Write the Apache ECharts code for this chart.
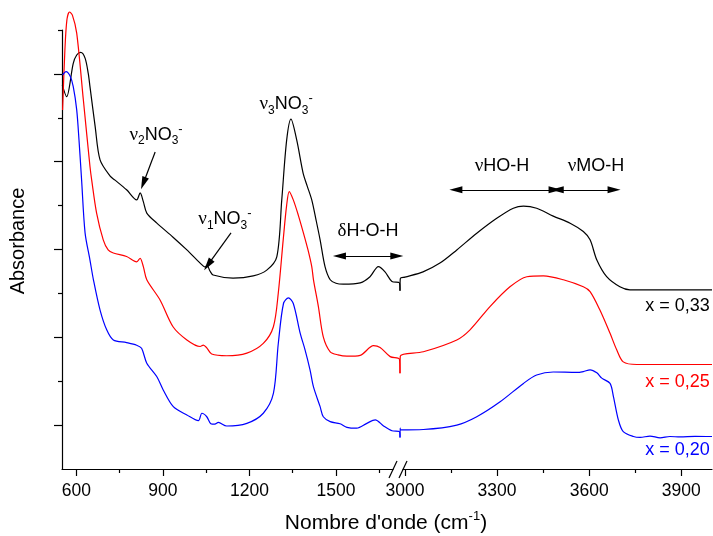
<!DOCTYPE html>
<html><head><meta charset="utf-8">
<script src="https://cdn.jsdelivr.net/npm/echarts@6/dist/echarts.min.js"></script>
<style>html,body{margin:0;padding:0;background:#fff}#c{width:713px;height:536px}</style>
</head><body><div id="c"></div>
<script>
// ---------- DATA ----------
// Low-wavenumber part (550-1722 cm-1)
const blackLowCm  = [551,566,589,601,615,630,641,647,665,682,717,734,774,809,821,832,844,879,935,983,1029,1046,1053,1063,1074,1143,1213,1260,1295,1312,1329,1344,1364,1386,1400,1416,1431,1445,1462,1480,1500,1525,1584,1618,1647,1670,1694,1720,1722];
const blackLowAbs = [8.75,8.48,9.24,9.43,9.49,9.36,9.01,8.71,7.80,7.04,6.67,6.58,6.36,6.13,6.29,6.09,5.83,5.60,5.28,4.99,4.69,4.60,4.64,4.51,4.42,4.35,4.40,4.53,4.84,6.13,7.49,7.97,7.49,6.74,6.45,6.13,5.67,5.22,4.61,4.31,4.23,4.21,4.24,4.38,4.61,4.49,4.27,4.24,4.06];
const redLowCm    = [552,560,567,576,586,601,624,647,653,670,693,710,728,774,809,821,832,844,890,935,983,1029,1040,1052,1069,1121,1191,1248,1283,1300,1317,1329,1338,1352,1369,1387,1403,1416,1422,1439,1456,1480,1507,1538,1584,1630,1653,1688,1720,1722];
const redLowAbs   = [8.18,9.54,10.23,10.41,10.34,9.93,8.41,6.89,6.58,5.83,5.22,4.99,4.92,4.84,4.72,4.80,4.61,4.31,3.85,3.24,2.94,2.79,2.82,2.76,2.62,2.58,2.64,2.86,3.24,4.01,5.22,6.01,6.32,6.13,5.79,5.38,4.99,4.61,4.31,3.70,3.01,2.67,2.60,2.57,2.59,2.81,2.77,2.56,2.50,2.18];
const blueLowCm   = [552,564,578,589,601,609,618,630,647,659,682,705,728,774,809,826,844,879,901,936,983,1023,1035,1052,1066,1080,1092,1121,1191,1248,1283,1300,1318,1335,1352,1376,1393,1410,1422,1445,1456,1480,1514,1538,1572,1607,1636,1665,1694,1720,1722];
const blueLowAbs  = [8.97,9.05,8.95,8.71,8.18,7.49,6.58,5.38,4.76,4.31,3.62,3.17,2.94,2.88,2.82,2.75,2.41,2.10,1.80,1.42,1.23,1.10,1.27,1.19,1.03,1.02,1.06,0.98,1.04,1.27,1.72,2.86,3.77,3.90,3.77,3.09,2.71,2.26,1.87,1.42,1.19,1.08,1.03,0.95,0.93,1.04,1.12,0.98,0.87,0.85,0.72];
// High-wavenumber part (2984-4000 cm-1)
const blackHighCm  = [2984,2985,3000,3059,3114,3169,3234,3299,3353,3386,3429,3483,3538,3581,3603,3625,3657,3700,3733,4000];
const blackHighAbs = [4.06,4.34,4.37,4.49,4.69,4.99,5.37,5.71,5.94,5.99,5.94,5.76,5.60,5.41,5.22,4.76,4.38,4.15,4.08,4.08];
const redHighCm    = [2984,2985,3060,3169,3212,3277,3342,3397,3451,3516,3581,3603,3635,3668,3690,3711,3755,4000];
const redHighAbs   = [2.18,2.57,2.67,2.94,3.17,3.70,4.15,4.38,4.40,4.31,4.15,4.04,3.62,3.09,2.71,2.44,2.38,2.38];
const blueHighCm   = [2984,2984.5,2985,3060,3169,3234,3310,3386,3429,3483,3559,3581,3603,3625,3641,3668,3679,3695,3711,3744,3766,3798,3831,3863,3896,3945,4000];
const blueHighAbs  = [0.72,0.93,0.89,0.90,1.00,1.19,1.53,1.95,2.14,2.21,2.20,2.22,2.26,2.19,2.07,1.95,1.65,1.12,0.85,0.74,0.72,0.75,0.71,0.74,0.73,0.745,0.74];

// Tick values
const lowMajorTicks  = [600, 900, 1200, 1500];
const lowMinorTicks  = [750, 1050, 1350, 1650];
const highMajorTicks = [3000, 3300, 3600, 3900];
const highMinorTicks = [3150, 3450, 3750];
const yMajorTicks = [1, 3, 5, 7, 9];
const yMinorTicks = [2, 4, 6, 8, 10];

// Series names / labels
const seriesLabels = ['x = 0,33', 'x = 0,25', 'x = 0,20'];
const seriesColors = ['#000000', '#ff0000', '#0000ff'];

// ---------- CHART ----------
const FONT = '"Liberation Sans", Arial, sans-serif';
const SERIF = '"Liberation Serif", "DejaVu Serif", serif';
const pair = (xs, ys) => xs.map((x, i) => [x, ys[i]]);
const chart = echarts.init(document.getElementById('c'), null, {renderer: 'canvas'});

const axisLine = {show: true, lineStyle: {color: '#000', width: 1.2}};
function xAx(grid, min, max, ticks, len, labels, showLine) {
  return {
    type: 'value', gridIndex: grid, min: min, max: max, position: 'bottom',
    axisLine: showLine ? axisLine : {show: false},
    axisTick: {show: true, length: len, customValues: ticks, lineStyle: {color: '#000', width: 1.2}},
    axisLabel: labels ? {show: true, customValues: ticks, margin: 13, color: '#000', fontSize: 17.5, fontFamily: FONT,
      formatter: v => String(v)} : {show: false},
    splitLine: {show: false}, minorTick: {show: false}
  };
}
function yAx(grid, ticks, len, showLine, show) {
  return {
    type: 'value', gridIndex: grid, min: 0, max: 10, position: 'left', show: show,
    axisLine: showLine ? axisLine : {show: false},
    axisTick: {show: true, length: len, customValues: ticks, lineStyle: {color: '#000', width: 1.2}},
    axisLabel: {show: false}, splitLine: {show: false}
  };
}

const arrowStyle = {color: '#000', width: 1.2, type: 'solid'};
function arrow(a, b, both) {
  return [{coord: a, symbol: both ? 'triangle' : 'none'}, {coord: b, symbol: 'triangle'}];
}

function lineSeries(name, xi, data, color, markLine) {
  const s = {
    name: name, type: 'line', xAxisIndex: xi, yAxisIndex: xi, data: data,
    showSymbol: false, symbol: 'none', smooth: 0.3, clip: false,
    lineStyle: {color: color, width: 1.2}, itemStyle: {color: color},
    silent: true, animation: false, z: 5
  };
  if (markLine) s.markLine = markLine;
  return s;
}

const lowArrows = {
  silent: true, symbolSize: [7, 13], animation: false,
  lineStyle: arrowStyle, label: {show: false}, emphasis: {disabled: true},
  data: [
    arrow([873, 7.22], [832, 6.51], false),
    arrow([1136, 5.38], [1056, 4.65], false),
    arrow([1512, 4.85], [1711, 4.85], true)
  ]
};
const highArrows = {
  silent: true, symbolSize: [7, 13], animation: false,
  lineStyle: arrowStyle, label: {show: false}, emphasis: {disabled: true},
  data: [
    arrow([3166, 6.36], [3489, 6.36], true),
    arrow([3496, 6.36], [3681, 6.36], true)
  ]
};

const option = {
  animation: false,
  backgroundColor: '#fff',
  grid: [
    {left: 62, top: 30, width: 338, height: 439, outerBoundsMode: 'none', containLabel: false},
    {left: 400, top: 30, width: 312, height: 439, outerBoundsMode: 'none', containLabel: false}
  ],
  xAxis: [
    xAx(0, 550, 1722, lowMajorTicks, 7, true, true),
    xAx(0, 550, 1722, lowMinorTicks, 4, false, false),
    xAx(1, 2984, 4000, highMajorTicks, 7, true, true),
    xAx(1, 2984, 4000, highMinorTicks, 4, false, false)
  ],
  yAxis: [
    yAx(0, yMajorTicks, 8, true, true),
    yAx(0, yMinorTicks, 4, false, true),
    yAx(1, yMajorTicks, 0, false, false),
    yAx(1, yMinorTicks, 0, false, false)
  ],
  series: [
    lineSeries('black-low', 0, pair(blackLowCm, blackLowAbs), seriesColors[0], lowArrows),
    lineSeries('red-low', 0, pair(redLowCm, redLowAbs), seriesColors[1]),
    lineSeries('blue-low', 0, pair(blueLowCm, blueLowAbs), seriesColors[2]),
    lineSeries('black-high', 2, pair(blackHighCm, blackHighAbs), seriesColors[0], highArrows),
    lineSeries('red-high', 2, pair(redHighCm, redHighAbs), seriesColors[1]),
    lineSeries('blue-high', 2, pair(blueHighCm, blueHighAbs), seriesColors[2])
  ]
};
chart.setOption(option);

// ---------- ANNOTATIONS (anchored in data coordinates) ----------
const big = {fontSize: 18, fontFamily: FONT, fill: '#000', lineHeight: 24, verticalAlign: 'middle'};
const greek = {fontSize: 19, fontFamily: SERIF, fill: '#000', lineHeight: 24, verticalAlign: 'middle'};
const sub = {fontSize: 12, fontFamily: FONT, fill: '#000', lineHeight: 12, verticalAlign: 'bottom'};
const sup = {fontSize: 13, fontFamily: FONT, fill: '#000', lineHeight: 12, verticalAlign: 'top'};
const richNu = {g: greek, m: big, s: sub, p: sup};

const annotations = [
  {grid: 0, at: [1327, 8.31], text: '{g|ν}{s|3}{m|NO}{s|3}{p|-}', align: 'center'},
  {grid: 0, at: [876, 7.61], text: '{g|ν}{s|2}{m|NO}{s|3}{p|-}', align: 'center'},
  {grid: 0, at: [1115, 5.69], text: '{g|ν}{s|1}{m|NO}{s|3}{p|-}', align: 'center'},
  {grid: 0, at: [1611, 5.42], text: '{g|δ}{m|H-O-H}', align: 'center'},
  {grid: 1, at: [3316, 6.90], text: '{g|ν}{m|HO-H}', align: 'center'},
  {grid: 1, at: [3622, 6.90], text: '{g|ν}{m|MO-H}', align: 'center'}
];
const legendAnchors = [[3993, 3.71], [3993, 1.99], [3993, 0.43]];

const graphics = [];
annotations.forEach(a => {
  const p = chart.convertToPixel({gridIndex: a.grid}, a.at);
  graphics.push({type: 'text', x: p[0], y: p[1], z: 10, silent: true,
    style: {text: a.text, rich: richNu, align: a.align, verticalAlign: 'middle'}});
});
legendAnchors.forEach((at, i) => {
  const p = chart.convertToPixel({gridIndex: 1}, at);
  graphics.push({type: 'text', x: p[0], y: p[1], z: 10, silent: true,
    style: {text: seriesLabels[i], fill: seriesColors[i], fontSize: 18, fontFamily: FONT, align: 'right', verticalAlign: 'middle'}});
});
// axis titles
graphics.push({type: 'text', x: 18, y: 241, rotation: Math.PI / 2, z: 10, silent: true,
  style: {text: 'Absorbance', fill: '#000', fontSize: 20, fontFamily: FONT, align: 'center', verticalAlign: 'middle'}});
graphics.push({type: 'text', x: 386, y: 523, z: 10, silent: true,
  style: {text: "{t|Nombre d'onde (cm}{p|-1}{t|)}", align: 'center', verticalAlign: 'middle',
    rich: {t: {fontSize: 21, fontFamily: FONT, fill: '#000', lineHeight: 26, verticalAlign: 'middle'},
           p: {fontSize: 13, fontFamily: FONT, fill: '#000', lineHeight: 14, verticalAlign: 'top'}}}});
// axis break marks
graphics.push({type: 'rect', shape: {x: 393.5, y: 466, width: 9, height: 6}, style: {fill: '#fff'}, z: 20, silent: true});
graphics.push({type: 'line', shape: {x1: 389, y1: 478, x2: 397, y2: 461}, style: {stroke: '#000', lineWidth: 1.2}, z: 21, silent: true});
graphics.push({type: 'line', shape: {x1: 399, y1: 478, x2: 407, y2: 461}, style: {stroke: '#000', lineWidth: 1.2}, z: 21, silent: true});

chart.setOption({graphic: graphics});
</script>
</body></html>
